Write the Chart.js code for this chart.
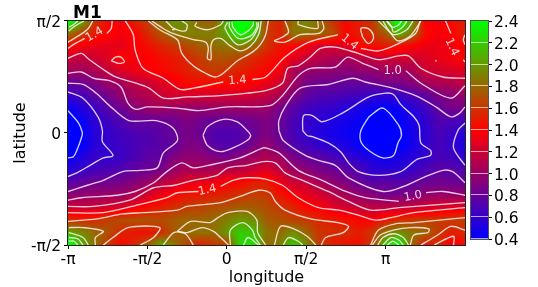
<!DOCTYPE html>
<html><head><meta charset="utf-8">
<script src="https://cdn.jsdelivr.net/npm/chart.js@4/dist/chart.umd.min.js"></script>
<style>html,body{margin:0;padding:0;background:#fff;overflow:hidden}
#wrap{position:relative;width:538px;height:287px}
canvas{position:absolute;top:0}</style></head><body>
<div id="wrap"><canvas id="main" width="538" height="287" style="left:0"></canvas>
<canvas id="bar" width="72" height="287" style="left:466px"></canvas></div>
<script>
const lonTicks=[-180,-90,0,90,180];
const lonTickLabels=['-π','-π/2','0','π/2','π'];
const latTicks=[-90,0,90];
const latTickLabels=['-π/2','0','π/2'];
const barTicks=[0.4,0.6,0.8,1.0,1.2,1.4,1.6,1.8,2.0,2.2,2.4];
const gridLon=[-180,-165,-150,-135,-120,-105,-90,-75,-60,-45,-30,-15,0,15,30,45,60,75,90,105,120,135,150,165,180,195,210,225,240,255,270];
const gridLat=[90,80,70,60,50,40,30,20,10,0,-10,-20,-30,-40,-50,-60,-70,-80,-90];
const gridValues=[
[2.5,2.1,1.6,1.42,1.36,1.5,1.65,1.85,2.0,1.95,1.78,1.75,2.1,2.6,2.3,1.65,1.52,1.85,1.95,1.8,1.6,1.42,1.52,1.6,2.05,2.5,2.0,1.38,1.36,1.45,1.5],
[1.85,1.65,1.5,1.42,1.36,1.4,1.55,1.72,1.85,1.9,1.9,1.9,2.05,2.4,2.2,1.65,1.52,1.85,1.85,1.8,1.7,1.42,1.5,1.6,1.75,2.1,1.85,1.45,1.36,1.4,1.55],
[1.42,1.36,1.32,1.3,1.3,1.37,1.45,1.53,1.6,1.68,1.76,1.82,1.85,1.9,1.8,1.6,1.48,1.42,1.35,1.22,1.22,1.3,1.42,1.45,1.5,1.45,1.38,1.33,1.32,1.35,1.42],
[1.2,1.15,1.2,1.27,1.42,1.36,1.39,1.45,1.5,1.55,1.63,1.7,1.72,1.65,1.55,1.48,1.41,1.3,1.2,1.12,1.08,1.05,1.12,1.17,1.21,1.22,1.22,1.25,1.32,1.36,1.4],
[1.05,1.03,1.07,1.17,1.26,1.32,1.38,1.42,1.46,1.52,1.58,1.63,1.58,1.52,1.47,1.42,1.35,1.07,1.0,0.97,0.96,0.93,0.96,0.98,1.02,1.02,1.05,1.2,1.22,1.25,1.27],
[0.8,0.82,0.9,1.0,1.03,1.14,1.18,1.27,1.34,1.43,1.44,1.45,1.42,1.42,1.39,1.33,1.22,1.05,0.86,0.83,0.82,0.8,0.79,0.82,0.86,0.88,0.92,1.03,1.08,1.1,1.15],
[0.62,0.66,0.78,0.85,0.98,1.05,1.1,1.18,1.22,1.22,1.22,1.22,1.22,1.22,1.2,1.15,1.07,0.9,0.78,0.72,0.7,0.68,0.66,0.6,0.58,0.62,0.7,0.77,0.88,0.93,1.0],
[0.43,0.53,0.62,0.75,0.83,0.93,1.0,1.03,1.0,0.99,0.97,1.0,1.0,1.02,1.02,1.0,0.87,0.75,0.66,0.62,0.6,0.55,0.5,0.44,0.4,0.45,0.55,0.65,0.78,0.87,0.86],
[0.35,0.42,0.58,0.64,0.72,0.8,0.8,0.8,0.84,0.9,0.85,0.8,0.8,0.8,0.85,0.9,0.82,0.7,0.6,0.58,0.52,0.48,0.43,0.35,0.3,0.4,0.5,0.58,0.72,0.7,0.65],
[0.3,0.38,0.55,0.6,0.66,0.7,0.72,0.76,0.8,0.87,0.82,0.72,0.7,0.72,0.8,0.9,0.8,0.68,0.6,0.53,0.48,0.45,0.42,0.32,0.28,0.38,0.48,0.57,0.68,0.62,0.55],
[0.32,0.4,0.55,0.6,0.64,0.68,0.72,0.75,0.78,0.9,0.88,0.75,0.72,0.75,0.88,0.97,0.85,0.72,0.65,0.6,0.55,0.5,0.42,0.33,0.3,0.38,0.47,0.58,0.68,0.6,0.52],
[0.42,0.52,0.62,0.6,0.63,0.7,0.76,0.78,0.92,0.97,0.96,0.92,0.87,0.97,1.03,1.1,1.03,0.88,0.8,0.76,0.7,0.63,0.56,0.5,0.45,0.5,0.55,0.6,0.68,0.66,0.57],
[0.55,0.62,0.66,0.7,0.72,0.8,0.82,0.87,1.0,1.08,1.05,1.08,1.13,1.15,1.2,1.27,1.15,1.02,0.95,0.88,0.83,0.78,0.7,0.58,0.58,0.58,0.63,0.7,0.76,0.76,0.72],
[0.76,0.79,0.85,0.84,0.88,0.92,1.0,1.12,1.2,1.28,1.32,1.32,1.42,1.43,1.5,1.52,1.35,1.2,1.17,1.05,0.97,0.9,0.82,0.75,0.78,0.74,0.77,0.82,0.85,0.82,0.8],
[0.95,0.97,0.99,1.02,1.0,1.08,1.24,1.34,1.43,1.48,1.5,1.52,1.55,1.6,1.65,1.62,1.48,1.38,1.3,1.24,1.15,1.05,0.97,0.93,0.85,0.88,0.9,0.97,1.0,0.99,1.0],
[1.2,1.2,1.2,1.24,1.27,1.36,1.45,1.52,1.58,1.63,1.66,1.7,1.72,1.77,1.75,1.7,1.62,1.54,1.42,1.38,1.28,1.22,1.18,1.15,1.16,1.17,1.2,1.23,1.26,1.28,1.3],
[1.58,1.55,1.57,1.65,1.7,1.72,1.72,1.7,1.75,1.8,1.78,1.82,1.9,2.0,1.95,1.75,1.72,1.65,1.62,1.55,1.5,1.47,1.42,1.4,1.5,1.58,1.62,1.62,1.63,1.63,1.65],
[2.05,1.95,1.8,1.72,1.55,1.48,1.45,1.55,1.75,1.8,1.85,1.82,2.0,2.2,2.15,1.85,1.8,1.95,1.8,1.6,1.58,1.58,1.5,1.62,1.85,1.97,1.85,1.8,1.62,1.52,1.55],
[2.5,2.1,1.85,1.6,1.4,1.55,1.75,2.1,1.85,1.65,1.5,1.6,1.62,2.25,2.3,1.8,1.9,2.2,1.95,1.62,1.5,1.45,1.45,1.6,2.2,2.4,1.8,1.45,1.55,1.35,1.45]
];
const contours=[
// 1.4
[[-115,90],[-106,79],[-104,67],[-95,52],[-72,44],[-53,35],[-38,36],[-4,41]],
[[29,43],[44,45],[66,61],[93,73],[126,79]],
[[152,68],[172,66],[195,72],[214,80],[219,90]],
[[248,90],[254,80]],[[268,59],[270,57]],[[270,79],[268,75],[270,71]],[[236,58],[238,58]],
[[-180,68],[-174,71],[-161,76]],[[-136,80],[-131,84],[-130,90]],
[[-131,58],[-126,61],[-120,61],[-116,57],[-123,56],[-131,58]],
[[-180,-64],[-140,-64],[-102,-58],[-68,-52],[-56,-48],[-32,-47]],
[[-7,-43],[7,-38],[23,-36],[44,-37],[63,-42],[81,-52],[104,-60],[127,-62],[149,-66],[169,-70],[186,-68],[212,-64],[270,-60]],
[[235,-90],[257,-83],[257,-90]],
// 1.2
[[-180,60],[-165,64],[-156,59],[-140,51],[-126,45],[-103,40],[-88,36],[-72,28],[-45,29],[-7,30],[23,32],[44,34],[63,40],[69,52],[81,54],[93,60],[106,68],[123,69],[149,64],[172,59],[195,62],[206,62],[220,52],[245,45],[270,44]],
[[-180,-59],[-151,-59],[-110,-54],[-83,-44],[-59,-42],[-38,-38],[-11,-34],[1,-28],[23,-26],[41,-23],[55,-24],[66,-32],[89,-39],[115,-47],[138,-55],[163,-62],[195,-60],[270,-56]],
// 1.0
[[-180,48],[-165,49],[-151,44],[-133,42],[-120,37],[-112,24],[-103,19],[-90,21],[-56,20],[-32,18],[1,21],[49,22],[63,30],[81,46],[95,52],[123,53],[137,61],[154,56],[172,51]],
[[203,50],[220,40],[254,28],[270,38]],
[[-180,-54],[-165,-52],[-124,-50],[-104,-47],[-83,-40],[-68,-31],[-51,-24],[-38,-28],[-21,-26],[15,-20],[41,-12],[44,-12],[59,-16],[81,-30],[108,-38],[135,-47],[157,-52],[195,-55]],
[[226,-48],[245,-47],[270,-50]],
// 0.8
[[-180,40],[-163,39],[-148,32],[-133,22],[-111,10],[-80,10],[-61,4],[-56,-6],[-72,-16],[-79,-28],[-98,-30],[-118,-31],[-140,-38],[-158,-42],[-180,-47]],
[[-27,-2],[-22,5],[-4,11],[12,9],[23,2],[27,-2],[23,-6],[7,-12],[-7,-15],[-22,-10],[-27,-2]],
[[59,2],[59,10],[66,21],[83,36],[115,39],[143,44],[157,41],[188,36],[214,30],[237,21],[254,13],[264,16],[270,21]],
[[59,2],[64,-6],[89,-18],[104,-22],[123,-26],[138,-36],[177,-47],[200,-43],[222,-36],[245,-30],[256,-31],[270,-40]],
// 0.6
[[-180,33],[-163,28],[-146,13],[-141,2],[-141,-7],[-129,-18],[-140,-20],[-155,-26],[-170,-32],[-180,-35]],
[[86,2],[87,14],[97,14],[108,9],[131,16],[161,29],[180,32],[189,31],[197,23],[212,13],[218,6],[220,-8],[231,-14],[231,-18],[216,-21],[197,-31],[172,-34],[149,-31],[138,-24],[129,-15],[115,-8],[97,-3],[91,-2],[86,2]],
[[270,8],[262,2],[257,-12],[270,-26]],
// 0.4
[[-180,18],[-168,8],[-164,1],[-164,-2],[-170,-14],[-174,-19],[-180,-20]],
[[161,13],[177,20],[195,6],[198,-2],[194,-8],[189,-18],[177,-20],[161,-14],[152,-7],[152,2],[161,13]],
// 1.6
[[-180,73],[-166,79],[-157,84],[-152,90]],
[[-89,90],[-76,83],[-60,77],[-55,74],[-51,64],[-38,54],[-24,48],[-13,45],[-4,48],[12,58],[29,65],[38,71],[44,79],[47,90]],
[[154,77],[160,72],[165,74],[166,79],[160,84],[152,84],[154,77]],
[[-180,-71],[-147,-69],[-118,-65],[-95,-64],[-56,-62],[-45,-59],[-7,-56],[15,-51],[36,-46],[49,-48],[55,-55],[66,-62],[95,-69],[126,-72],[138,-75],[132,-80],[112,-84],[107,-90]],
[[163,-90],[172,-78],[191,-73],[212,-72],[270,-68]],
[[-140,-90],[-129,-84],[-112,-76],[-76,-76],[-83,-84],[-98,-90]],
[[220,-90],[239,-82],[254,-75],[270,-78]],
// 1.8
[[-179,-76],[-163,-76],[-140,-79],[-149,-84],[-149,-90]],
[[-85,90],[-72,84],[-61,80],[-38,75],[-24,73],[-21,68],[-22,60],[-18,59],[-18,70],[-15,75],[-7,76],[4,70],[15,66],[27,70],[36,79],[39,90]],
[[-56,-79],[-41,-71],[-19,-72],[-10,-68],[1,-64],[23,-63],[34,-70],[35,-80],[44,-90]],
[[-56,-79],[-45,-80],[-28,-76],[-15,-79],[-7,-84],[2,-90]],
[[54,-90],[61,-75],[76,-77],[91,-83],[101,-90]],
[[66,90],[70,81],[63,77],[54,74],[66,73],[83,79],[104,80],[110,84],[108,90]],
[[165,-90],[174,-82],[189,-78],[208,-76],[229,-77],[228,-80],[212,-82],[208,-90]],
[[172,90],[186,80],[194,74],[208,78],[220,90]],
// 2.0
[[-179,82],[-172,86],[-162,90]],
[[-69,90],[-60,84],[-47,82],[-45,87],[-51,90]],
[[-34,89],[-36,86],[-22,83],[-7,87],[-4,90]],
[[1,89],[-2,84],[12,71],[27,75],[35,84],[36,89]],
[[-179,-80],[-163,-84],[-157,-90]],
[[-72,-90],[-60,-80],[-47,-81],[-38,-90]],
[[4,-90],[4,-78],[18,-72],[29,-78],[32,-84],[38,-90]],
[[64,-90],[70,-84],[81,-87],[86,-90]],
[[171,-90],[177,-84],[189,-81],[200,-84],[206,-90]],
[[81,90],[81,87],[103,84],[103,90]],
[[177,90],[182,84],[189,79],[204,83],[211,90]],
// 2.2
[[-179,85],[-174,87],[-169,90]],[[-62,83],[-59,83]],
[[3,89],[3,85],[13,76],[27,78],[34,85],[34,89]],
[[-179,-84],[-169,-85],[-163,-90]],[[19,-90],[24,-84],[36,-90]],
[[177,-90],[186,-84],[195,-86],[200,-90]],
[[182,90],[187,85],[189,81],[199,85],[204,90]],
// 2.4
[[6,89],[7,85],[15,79],[24,82],[30,87],[30,89]],
[[-179,-87],[-173,-87],[-169,-90]],
[[182,-90],[188,-87],[195,-90]],
[[181,90],[188,85],[195,87],[198,90]]
];
const contourLabels=[
{text:'1.4',lon:-150,lat:79,angle:-30},
{text:'1.4',lon:12,lat:42,angle:-4},
{text:'1.4',lon:139,lat:73,angle:40},
{text:'1.0',lon:188,lat:50,angle:0},
{text:'1.4',lon:255,lat:69,angle:65},
{text:'1.4',lon:-22,lat:-46,angle:-12},
{text:'1.0',lon:211,lat:-51,angle:-10}
];
const cbMin=0.4,cbMid=1.4,cbMax=2.4;
function rgb(v){
  const c=Math.max(cbMin,Math.min(cbMax,v));
  if(c<=cbMid){const t=(c-cbMin)/(cbMid-cbMin);return [255*t,0,255*(1-t)];}
  const t=(c-cbMid)/(cbMax-cbMid);return [255*(1-t),255*t,0];
}
function sample(lon,lat){
  const fx=(lon-gridLon[0])/(gridLon[1]-gridLon[0]);
  const fy=(lat-gridLat[0])/(gridLat[1]-gridLat[0]);
  const i=Math.max(0,Math.min(gridLon.length-2,Math.floor(fx)));
  const j=Math.max(0,Math.min(gridLat.length-2,Math.floor(fy)));
  const a=fx-i,b=fy-j,g=gridValues;
  return (g[j][i]*(1-a)+g[j][i+1]*a)*(1-b)+(g[j+1][i]*(1-a)+g[j+1][i+1]*a)*b;
}
const F='"DejaVu Sans"';
const heatPlugin={id:'heat',beforeDatasetsDraw(chart){
  const {ctx,chartArea:A,scales:{x,y}}=chart;
  const w=Math.round(A.right-A.left),h=Math.round(A.bottom-A.top);
  const img=ctx.createImageData(w,h);
  for(let py=0;py<h;py++){const lat=y.getValueForPixel(A.top+py+.5);
    for(let px=0;px<w;px++){const lon=x.getValueForPixel(A.left+px+.5);
      const c=rgb(sample(lon,lat)),k=(py*w+px)*4;
      img.data[k]=c[0];img.data[k+1]=c[1];img.data[k+2]=c[2];img.data[k+3]=255;}}
  ctx.putImageData(img,Math.round(A.left),Math.round(A.top));
},afterDatasetsDraw(chart){
  const {ctx,chartArea:A,scales:{x,y}}=chart;
  ctx.save();ctx.fillStyle='rgba(255,255,255,.85)';ctx.font='11.5px '+F;ctx.textAlign='center';ctx.textBaseline='middle';
  contourLabels.forEach(l=>{ctx.save();ctx.translate(x.getPixelForValue(l.lon),y.getPixelForValue(l.lat));ctx.rotate(l.angle*Math.PI/180);ctx.fillText(l.text,0,0);ctx.restore();});
  ctx.strokeStyle='#222';ctx.lineWidth=1;
  ctx.strokeRect(A.left-.5,A.top-.5,A.right-A.left+1,A.bottom-A.top+1);
  ctx.restore();
},afterLayout(chart){chart.titleBlock.left=chart.chartArea.left+5;}};
const cells=[];gridLat.forEach((la,j)=>gridLon.forEach((lo,i)=>cells.push({x:lo,y:la,v:gridValues[j][i]})));
const datasets=[{label:'field',data:cells,pointRadius:0,showLine:false,order:5}];
contours.forEach((c,i)=>datasets.push({label:'contour'+i,data:c.map(p=>({x:p[0],y:p[1]})),showLine:true,pointRadius:0,borderColor:'rgba(255,255,255,.8)',borderWidth:1.35,tension:.3,fill:false,clip:true}));
new Chart(document.getElementById('main'),{type:'scatter',data:{datasets},plugins:[heatPlugin],options:{
  responsive:false,animation:false,events:[],
  layout:{padding:{left:11,right:73,top:0,bottom:0}},
  plugins:{legend:{display:false},tooltip:{enabled:false},
    title:{display:true,text:'M1',align:'start',fullSize:false,color:'#000',font:{family:F,size:17,weight:'bold',lineHeight:0.882},padding:{top:6,bottom:0}}},
  scales:{
    x:{type:'linear',min:-180,max:270,
      afterBuildTicks(s){s.ticks=lonTicks.map(v=>({value:v}));},
      afterFit(s){s.height=42;},
      ticks:{autoSkip:false,maxRotation:0,padding:2,color:'#000',font:{family:F,size:15.5},callback:v=>lonTickLabels[lonTicks.indexOf(v)]},
      grid:{drawOnChartArea:false,tickLength:4,color:'#000',tickColor:'#000',drawTicks:true},border:{display:false},
      title:{display:true,text:'longitude',color:'#000',font:{family:F,size:16},padding:{top:0,bottom:0}}},
    y:{type:'linear',min:-90,max:90,
      afterBuildTicks(s){s.ticks=latTicks.map(v=>({value:v}));},
      afterFit(s){s.width=57;},
      ticks:{autoSkip:false,padding:3,labelOffset:2,color:'#000',font:{family:F,size:15.5},callback:v=>latTickLabels[latTicks.indexOf(v)]},
      grid:{drawOnChartArea:false,tickLength:4,color:'#000',tickColor:'#000'},border:{display:false},
      title:{display:true,text:'latitude',color:'#000',font:{family:F,size:16},padding:{top:0,bottom:0}}}
  }
}});
const barPlugin={id:'cbLines',afterDatasetsDraw(chart){
  const {ctx,chartArea:A,scales:{y}}=chart;
  ctx.save();ctx.strokeStyle='rgba(255,255,255,.65)';ctx.lineWidth=1;
  barTicks.slice(0,-1).forEach(v=>{const p=Math.round(y.getPixelForValue(v))-.5;ctx.beginPath();ctx.moveTo(A.left,p);ctx.lineTo(A.right,p);ctx.stroke();});
  ctx.strokeStyle='#555';ctx.strokeRect(A.left-.5,A.top-.5,A.right-A.left+1,A.bottom-A.top+1);
  ctx.restore();
}};
new Chart(document.getElementById('bar'),{type:'bar',
  data:{labels:['colorbar'],datasets:[{data:[[cbMin,cbMax]],barPercentage:1,categoryPercentage:1,borderWidth:0,
    backgroundColor(c){const a=c.chart.chartArea;if(!a)return '#000';
      const g=c.chart.ctx.createLinearGradient(0,a.bottom,0,a.top);
      g.addColorStop(0,'rgb(0,0,255)');g.addColorStop(.5,'rgb(255,0,0)');g.addColorStop(1,'rgb(0,255,0)');return g;}}]},
  plugins:[barPlugin],
  options:{responsive:false,animation:false,events:[],
    layout:{padding:{left:5,right:0,top:21,bottom:48}},
    plugins:{legend:{display:false},tooltip:{enabled:false},title:{display:false}},
    scales:{x:{display:false},
      y:{position:'right',min:cbMin,max:cbMax,
        afterBuildTicks(s){s.ticks=barTicks.map(v=>({value:v}));},
        afterFit(s){s.width=50;},
        ticks:{autoSkip:false,padding:2,labelOffset:2,color:'#000',font:{family:F,size:15.5},callback:v=>v.toFixed(1)},
        grid:{drawOnChartArea:false,tickLength:4,tickColor:'#000'},border:{display:false}}}}
});
</script></body></html>
